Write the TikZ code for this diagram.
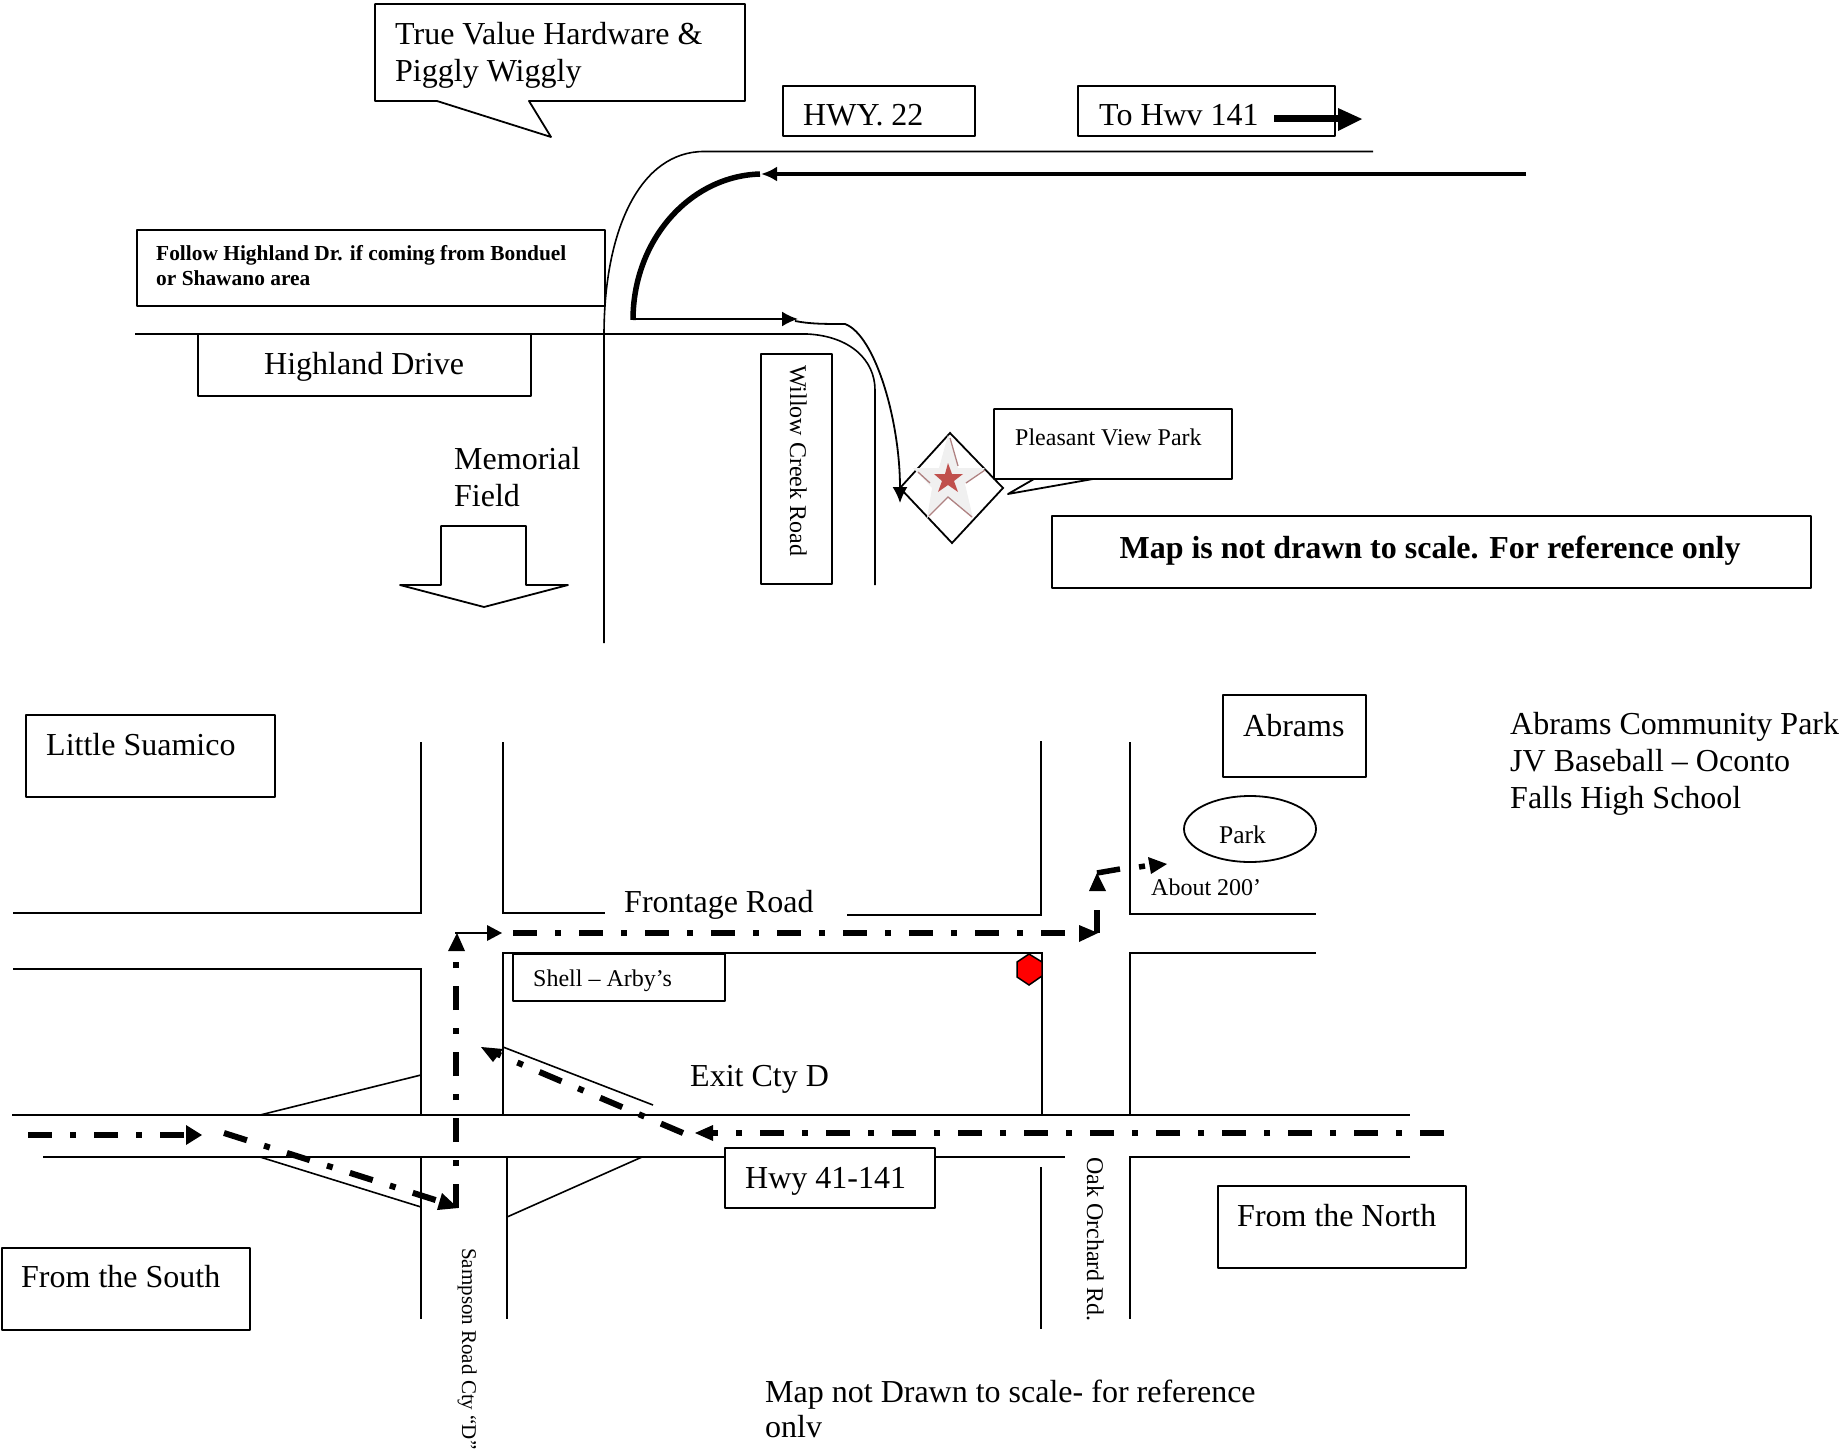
\documentclass[tikz,border=0pt]{standalone}
\usepackage{fontspec}
\usetikzlibrary{arrows.meta,shapes.geometric}
\setmainfont{Liberation Serif}
\definecolor{starred}{RGB}{192,80,77}
\definecolor{starmark}{RGB}{175,130,130}
\tikzset{
 x=1pt,y=-1pt,
 road/.style={draw=black,line width=1.6pt},
 box/.style={draw=black,line width=1.8pt,fill=white,line join=round},
 txt/.style={inner sep=0pt,anchor=base west,font=\fontsize{32}{32}\selectfont},
 small/.style={txt,font=\fontsize{24}{24}\selectfont},
 route/.style={line width=6pt,dash pattern=on 24pt off 18pt on 6pt off 18pt},
 tip/.style={fill=black,draw=none},
 plainbox/.style={box,anchor=north west,inner sep=0pt},
}
\begin{document}
\begin{tikzpicture}
\useasboundingbox (0,0) rectangle (1844,1453);
% top roads
\draw[road] (1373,151.5) -- (704,151.5) .. controls (640,151.5) and (604,230) .. (604,335) -- (604,643);
\draw[road] (135,334) -- (807,334) .. controls (850,336) and (875,360) .. (875,390) -- (875,585);
% callouts
\draw[box] (375,4) -- (745,4) -- (745,101) -- (529,101) -- (551,137) -- (437,101) -- (375,101) -- cycle;
\node[txt] (tv1) at (395,45) {True Value Hardware \&};
\node[txt] (tv2) at (395,82) {Piggly Wiggly};
\node[plainbox,minimum width=192pt,minimum height=50pt] (hwy22) at (782,85) {};
\node[txt] (hwy22t) at (803,125) {HWY. 22};
\node[plainbox,minimum width=257pt,minimum height=50pt] (to141) at (1077,85) {};
\node[txt] (to141t) at (1099,125) {To Hwv 141};
\draw[line width=7pt] (1274,119) -- (1340,119);
\fill[tip] (1362,119) -- (1338,108) -- (1338,131) -- cycle;
\node[plainbox,minimum width=468pt,minimum height=76pt] (fol) at (136,229) {};
\node[small,font=\fontsize{21.4}{21.4}\bfseries\selectfont] (fol1) at (156,260) {Follow Highland Dr. if coming from Bonduel};
\node[small,font=\fontsize{21.4}{21.4}\bfseries\selectfont] (fol2) at (156,285) {or Shawano area};
\node[plainbox,minimum width=333pt,minimum height=62pt] (hd) at (197,333) {};
\node[txt] (hdt) at (264,374) {Highland Drive};
\node[txt] (mem1) at (454,469) {Memorial};
\node[txt] (mem2) at (454,506) {Field};
\draw[box,fill=none] (441,526) -- (526,526) -- (526,585) -- (568,585) -- (484,607) -- (400,585) -- (441,585) -- cycle;
\node[plainbox,minimum width=71pt,minimum height=230pt] (wc) at (760,353) {};
\node[small,rotate=-90,anchor=base west] (wct) at (790,365) {Willow Creek Road};
% thick route
\draw[line width=4.5pt,-{Latex[length=16pt,width=15pt]}] (1526,174) -- (761,174);
\draw[line width=5.5pt] (760,174) .. controls (690,176) and (633,240) .. (633,320);
\draw[line width=2pt,-{Latex[length=16pt,width=15pt]}] (633,319) -- (798,319);
\draw[line width=1.8pt,-{Latex[length=16pt,width=15pt]}] (795,321) .. controls (810,324) and (825,324) .. (845,324) .. controls (875,335) and (900,420) .. (900,503);
% park marker
\draw[line width=1.8pt] (950,433) -- (1003,488) -- (952,543) -- (900,488) -- cycle;
\fill[black!6] (948,435) -- (958,468) -- (985,468) -- (965,484) -- (973,518) -- (948,497) -- (927,518) -- (932,488) -- (913,468) -- (939,468) -- cycle;
\draw[line width=1.3pt,draw=starmark] (950,438) -- (958,466) (985,470) -- (966,483) (972,517) -- (948,497) -- (929,516) (918,472) -- (930,483);
\fill[starred] (948,463) -- (952,474) -- (963,474) -- (954,481) -- (958,492) -- (948,485) -- (938,492) -- (942,481) -- (934,474) -- (945,474) -- cycle;
\draw[box,fill=none] (1034,479) -- (1232,479) -- (1232,409) -- (994,409) -- (994,479) -- (1034,479) -- (1008,494) -- (1093,479);
\node[small] (pv) at (1015,445) {Pleasant View Park};
\node[plainbox,minimum width=759pt,minimum height=72pt] (map) at (1051,515) {};
\node[txt,anchor=base,font=\fontsize{32}{32}\bfseries\selectfont] (mapt) at (1430,558) {Map is not drawn to scale. For reference only};
% lower roads
\draw[road] (421,742) -- (421,913) -- (13,913);
\draw[road] (503,742) -- (503,913) -- (605,913);
\draw[road] (847,915) -- (1041,915) -- (1041,741);
\draw[road] (1130,742) -- (1130,914) -- (1316,914);
\draw[road] (13,969) -- (421,969) -- (421,1115);
\draw[road] (503,1115) -- (503,953) -- (1042,953) -- (1042,1115);
\draw[road] (1316,953) -- (1130,953) -- (1130,1115);
\draw[road] (12,1115) -- (1410,1115);
\draw[road] (43,1157) -- (1065,1157);
\draw[road] (1410,1157) -- (1130,1157) -- (1130,1319);
\draw[road] (1041,1167) -- (1041,1329);
\draw[road] (421,1157) -- (421,1319);
\draw[road] (507,1157) -- (507,1319);
\draw[road] (260,1115) -- (421,1075);
\draw[road] (260,1157) -- (421,1207);
\draw[road] (503,1047) -- (653,1105);
\draw[road] (507,1217) -- (642,1157);
% boxes
\node[plainbox,minimum width=249pt,minimum height=82pt] (ls) at (25,714) {};
\node[txt] (lst) at (46,755) {Little Suamico};
\node[plainbox,minimum width=143pt,minimum height=82pt] (ab) at (1222,694) {};
\node[txt] (abt) at (1243,736) {Abrams};
\node[txt] (s1) at (1510,734) {Abrams Community Park};
\node[txt] (s2) at (1510,771.5) {JV Baseball – Oconto};
\node[txt] (s3) at (1510,808) {Falls High School};
\node[plainbox,minimum width=210pt,minimum height=60pt] (hw) at (724,1147) {};
\node[txt] (hwt) at (745,1188) {Hwy 41-141};
\node[plainbox,minimum width=248pt,minimum height=82pt] (fn) at (1217,1185) {};
\node[txt] (fnt) at (1237,1226) {From the North};
\node[plainbox,minimum width=248pt,minimum height=82pt] (fs) at (1,1247) {};
\node[txt] (fst) at (21,1287.5) {From the South};
\node[plainbox,minimum width=212pt,minimum height=47pt] (sh) at (512,953) {};
\node[small] (sht) at (533,986) {Shell – Arby’s};
\node[txt] (fr) at (624,912) {Frontage Road};
\node[txt] (ex) at (690,1086) {Exit Cty D};
\node[draw=black,line width=1.8pt,ellipse,minimum width=132pt,minimum height=66pt,inner sep=0pt] (pk) at (1250,829) {};
\node[small,font=\fontsize{25.5}{25.5}\selectfont] (pkt) at (1219,843) {Park};
\node[small] (ab2) at (1151,895) {About 200’};
\node[small,rotate=-90] (ok) at (1087,1157) {Oak Orchard Rd.};
\node[small,rotate=-90,font=\fontsize{21}{21}\selectfont] (sa) at (462,1248) {Sampson Road Cty “D”};
\node[txt] (n1) at (765,1402) {Map not Drawn to scale- for reference};
\node[txt] (n2) at (765,1437) {onlv};
\fill[red,draw=black,line width=1.5pt] (1029,954) -- (1042,962) -- (1042,976) -- (1029,985) -- (1017,977) -- (1017,962) -- cycle;
% dashed routes
\draw[route] (1444,1133) -- (708,1133);
\fill[tip] (695,1133) -- (713,1125) -- (713,1141) -- cycle;
\draw[route] (683,1133) -- (495,1053);
\fill[tip] (481,1047) -- (503,1049) -- (493,1062) -- cycle;
\draw[route] (28,1135) -- (190,1135);
\fill[tip] (202,1135) -- (186,1125) -- (186,1145) -- cycle;
\draw[route] (224,1133) -- (445,1203);
\fill[tip] (458,1208) -- (437,1210) -- (442,1193) -- cycle;
\draw[route] (456,1208) -- (456,950);
\fill[tip] (457,933) -- (465,951) -- (448,951) -- cycle;
\draw[line width=1.5pt] (455,933) -- (490,933);
\fill[tip] (502,933) -- (487,925) -- (487,941) -- cycle;
\draw[route] (513,933) -- (1085,933);
\fill[tip] (1098,933) -- (1079,925) -- (1079,942) -- cycle;
\draw[line width=5.5pt] (1097,933) -- (1097,910);
\fill[tip] (1097,873) -- (1089,891) -- (1106,891) -- cycle;
\draw[line width=5.5pt] (1097,873) -- (1120,869);
\draw[line width=5.5pt] (1139,867) -- (1145,866);
\fill[tip] (1167,864) -- (1148,857) -- (1151,874) -- cycle;
\end{tikzpicture}
\end{document}
